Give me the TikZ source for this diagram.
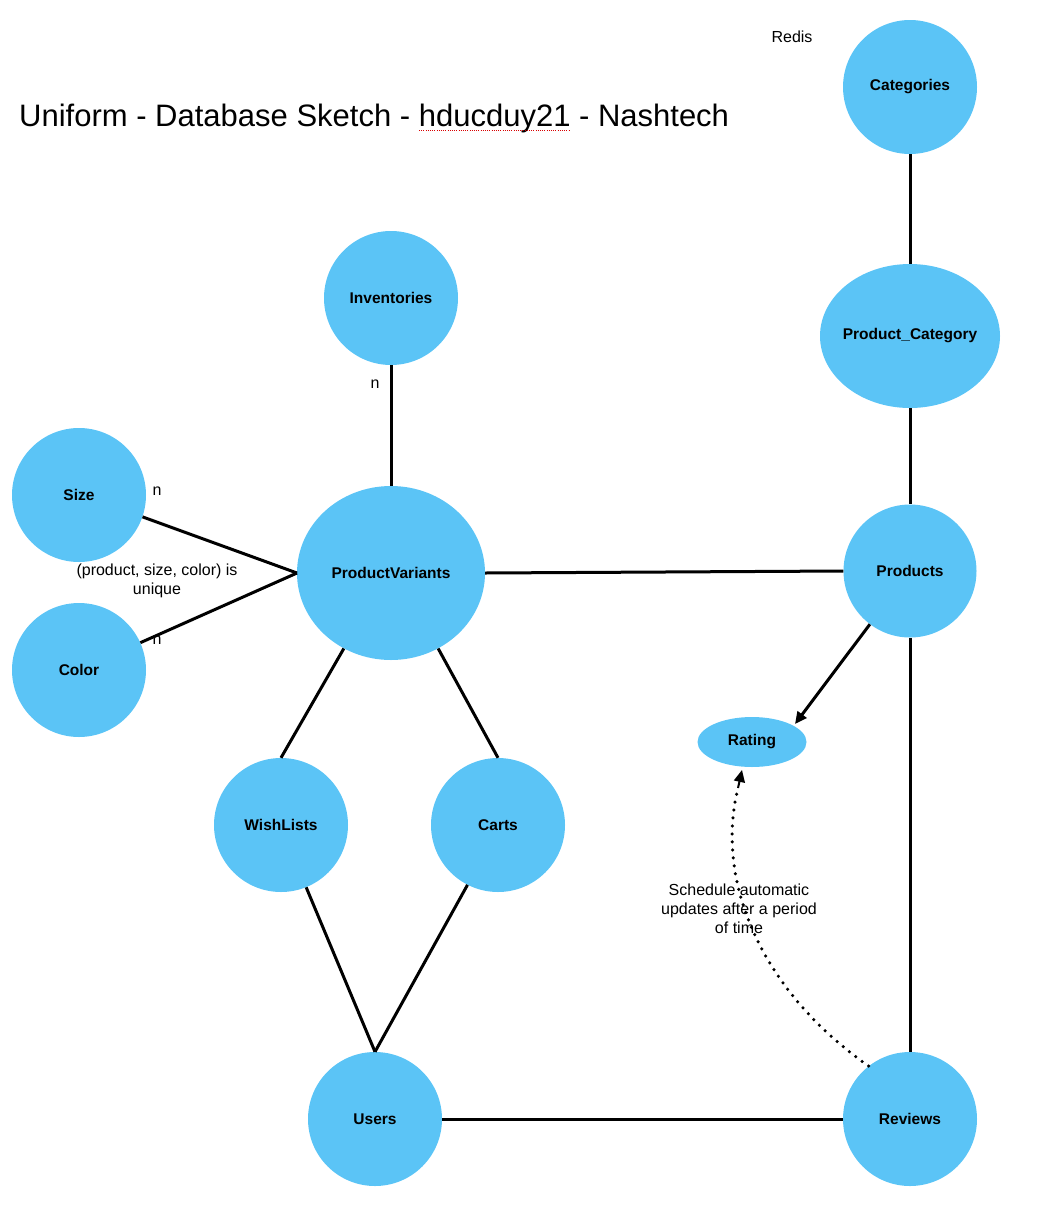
\documentclass[tikz,border=0pt]{standalone}
\usepackage{fontspec}
\setmainfont{Liberation Sans}
\usetikzlibrary{shapes.geometric,arrows.meta}
\definecolor{ent}{HTML}{5BC4F6}
\tikzset{
  ent/.style={circle,fill=ent,draw=none,minimum size=134pt,inner sep=0pt,font=\fontsize{15.5}{18}\selectfont\bfseries},
  entel/.style={ellipse,fill=ent,draw=none,inner sep=0pt,font=\fontsize{15.5}{18}\selectfont\bfseries},
  conn/.style={line width=3pt},
  lbl/.style={font=\fontsize{16}{19}\selectfont,align=center,inner sep=0pt},
}
\begin{document}
\begin{tikzpicture}[x=1pt,y=-1pt]
\useasboundingbox (0,0) rectangle (1042,1210);
% title
\node[anchor=base west,inner sep=0pt,font=\fontsize{31}{36}\selectfont] (title) at (19,126) {Uniform - Database Sketch - hducduy21 - Nashtech};
\draw[red!85!black,line width=0.9pt,dash pattern=on 1pt off 1.2pt] (419,130) -- (570,130);
\node[lbl,anchor=center] (redis) at (792,37) {Redis};
% entities
\node[ent] (cat) at (910,87) {Categories};
\node[entel,minimum width=180pt,minimum height=144pt] (pc) at (910,336) {\makebox[0pt]{Product\_Category}};
\node[ent] (inv) at (391,298) {Inventories};
\node[entel,minimum width=188pt,minimum height=174pt] (pv) at (391,573) {\makebox[0pt]{ProductVariants}};
\node[ent] (size) at (79,495) {Size};
\node[ent] (color) at (79,670) {Color};
\node[ent,minimum size=133pt] (prod) at (910,571) {Products};
\node[entel,minimum width=109pt,minimum height=50pt] (rating) at (752,742) {\makebox[0pt]{Rating}};
\node[ent] (wish) at (281,825) {WishLists};
\node[ent] (carts) at (498,825) {Carts};
\node[ent] (users) at (375,1119) {Users};
\node[ent] (rev) at (910,1119) {Reviews};
% connector end points
\coordinate (pvl) at (297,573);
\coordinate (rtip) at (795,724);
\coordinate (rtip2) at (742,770);
\coordinate (dotend) at (738,788);
% connectors
\draw[conn] (cat.south) -- (pc.north);
\draw[conn] (pc.south) -- (prod.north);
\draw[conn] (inv.south) -- (pv.north);
\draw[conn] (size.-19) -- (pvl);
\draw[conn] (color.24) -- (pvl);
\draw[conn] (pv.east) -- (prod.west);
\draw[conn,-{Triangle[length=12pt,width=11pt]}] (prod.233) -- (rtip);
\draw[conn] (prod.south) -- (rev.north);
\draw[conn] (pv.-122) -- (wish.north);
\draw[conn] (pv.-58) -- (carts.north);
\draw[conn] (wish.-68) -- (users.north);
\draw[conn] (carts.-117) -- (users.north);
\draw[conn] (users.east) -- (rev.west);
\draw[line width=3.5pt,line cap=round,dash pattern=on 0pt off 8pt] (rev.128) .. controls (760,990) and (715,880) .. (dotend);
\draw[line width=2pt,-{Triangle[length=12pt,width=11pt]}] (dotend) -- (rtip2);
% labels
\node[lbl] (ninv) at (375,384) {n};
\node[lbl] (nsize) at (157,491) {n};
\node[lbl] (ncolor) at (157,640) {n};
\node[lbl] (uniq) at (157,581) {(product, size, color) is\\unique};
\node[lbl] (sched) at (739,909) {Schedule automatic\\updates after a period\\of time};
\end{tikzpicture}
\end{document}
